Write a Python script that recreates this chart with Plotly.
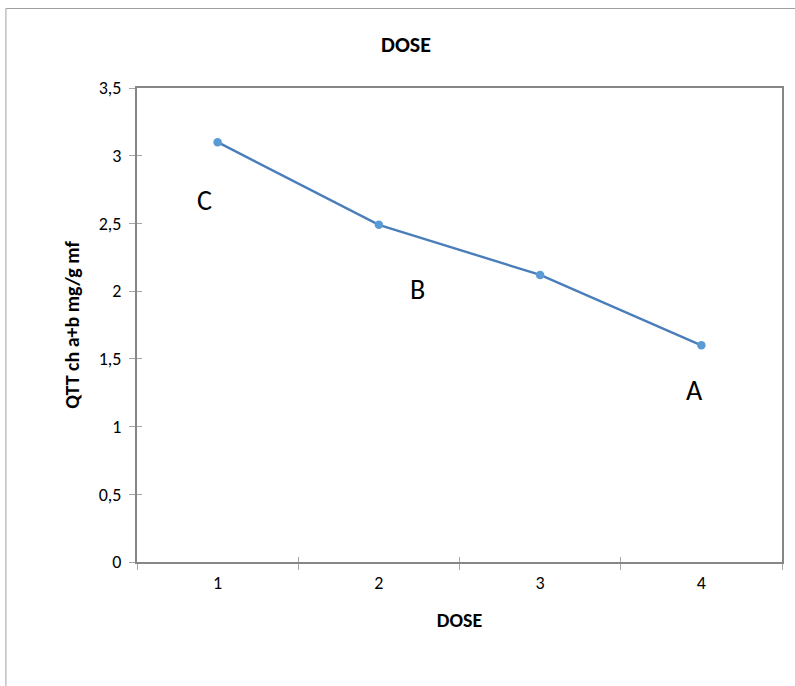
import plotly.graph_objects as go

doses = ["1", "2", "3", "4"]
qtt = [3.10, 2.49, 2.12, 1.60]
labels_txt = ["C", "B", "A"]
labels_x = [-0.08, 1.24, 2.96]
labels_y = [2.67, 2.01, 1.27]
y_ticks = [0, 0.5, 1, 1.5, 2, 2.5, 3, 3.5]
y_ticktext = ["0", "0,5", "1", "1,5", "2", "2,5", "3", "3,5"]
x_bounds = [-0.5, 0.5, 1.5, 2.5, 3.5]

FONT = "Carlito, Calibri, Lato, sans-serif"
AXIS = "#868686"
TICK = "#a6a6a6"

fig = go.Figure()
fig.add_trace(go.Scatter(
    x=doses, y=qtt, mode="lines+markers",
    line=dict(color="#4A7EBB", width=2.4),
    marker=dict(color="#5B9BD5", size=8.5),
    showlegend=False, cliponaxis=False,
))

for t, x, y in zip(labels_txt, labels_x, labels_y):
    fig.add_annotation(x=x, y=y, text=t, showarrow=False,
                       font=dict(family=FONT, size=28, color="black"))

fig.update_layout(
    width=795, height=686,
    margin=dict(l=137, r=11, t=88, b=124),
    paper_bgcolor="white", plot_bgcolor="white",
    font=dict(family=FONT, color="black"),
    title=dict(text="<b>DOSE</b>", x=406/795, xanchor="center",
               y=1-44.5/686, yanchor="middle", yref="container",
               font=dict(family=FONT, size=22, color="black")),
    xaxis=dict(type="category", range=[-0.5, 3.5], tickson="boundaries",
               ticks="outside", ticklen=6, ticklabelstandoff=3,
               tickcolor=TICK, showline=True, linecolor=AXIS, linewidth=2, mirror=True,
               showgrid=False, tickfont=dict(size=18, color="black"), zeroline=False,
               title=dict(text="<b>DOSE</b>", font=dict(size=20, color="black"), standoff=20)),
    xaxis2=dict(overlaying="x", range=[-0.5, 3.5], tickvals=x_bounds, ticks="inside",
                ticklen=5, tickcolor=TICK, showticklabels=False, showline=False,
                showgrid=False, zeroline=False),
    yaxis=dict(range=[0, 3.5], tickvals=y_ticks, ticktext=y_ticktext,
               ticks="outside", ticklen=6, tickcolor=TICK, ticklabelstandoff=4,
               showline=True, linecolor=AXIS, linewidth=2, mirror=True,
               showgrid=False, zeroline=False, tickfont=dict(size=18, color="black"),
               title=dict(text="<b>QTT ch a+b mg/g mf</b>", font=dict(size=20, color="black"), standoff=14)),
    yaxis2=dict(overlaying="y", range=[0, 3.5], tickvals=y_ticks, ticks="inside",
                ticklen=5, tickcolor=TICK, showticklabels=False, showline=False,
                showgrid=False, zeroline=False),
)

# invisible trace to activate the overlay axes carrying the inner tick halves
fig.add_trace(go.Scatter(x=[None], y=[None], xaxis="x2", yaxis="y2",
                         showlegend=False, hoverinfo="skip"))

fig.add_shape(type="rect", xref="paper", yref="paper",
              x0=(5.5-137)/647, x1=1.2, y0=-0.4, y1=(562-8.5)/474,
              line=dict(color="#a0a0a0", width=1), fillcolor="rgba(0,0,0,0)", layer="below")

fig.write_html("out.html")
